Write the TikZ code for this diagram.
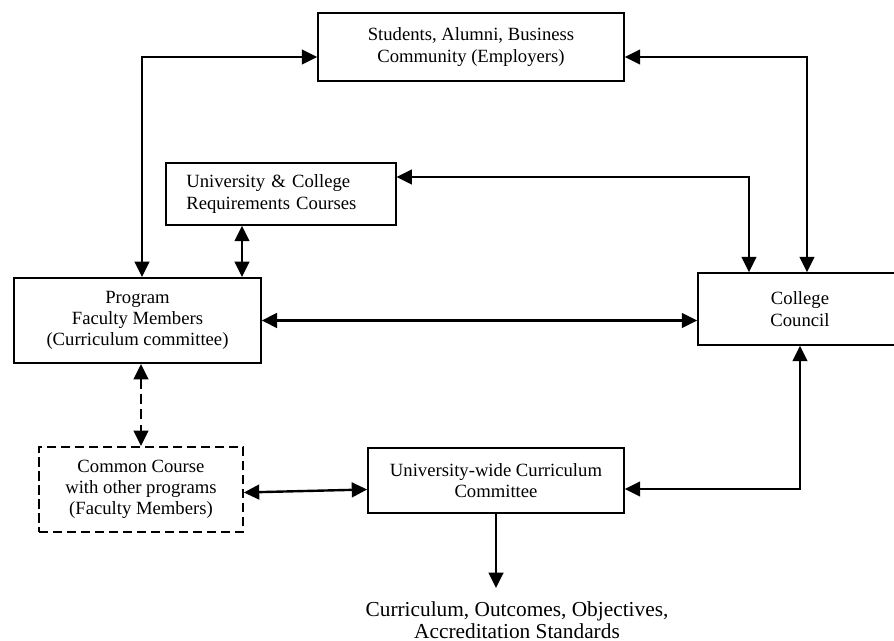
\documentclass[tikz,border=0pt]{standalone}
\usepackage{fontspec}
\setmainfont{Liberation Serif}
\usetikzlibrary{arrows.meta,calc}
\tikzset{
  box/.style={draw, line width=1.3pt, align=center, inner sep=2pt,
    font=\fontsize{14}{16}\selectfont},
  link/.style={line width=1.8pt, {Triangle[length=11.5pt,width=11pt]}-{Triangle[length=11.5pt,width=11pt]}},
}
\begin{document}
\begin{tikzpicture}[x=0.75pt, y=-0.75pt]
    \useasboundingbox (0,0) rectangle (894,641);
    % boxes
    \node[box, minimum width=229.5pt, minimum height=51pt] (stud) at (471,47)
        {Students, Alumni, Business\\Community (Employers)};
    \node[box, text width=142pt, inner xsep=15pt, align=left, minimum height=46.5pt] (univ) at (281,194)
        {University \& College\\Requirements Courses};
    \node[box, minimum width=185pt, minimum height=64pt] (prog) at (137.5,320.5)
        {Program\\Faculty Members\\(Curriculum committee)};
    \node[box, minimum width=153pt, minimum height=54pt] (council) at (800,309)
        {College\\Council};
    \node[box, dash pattern=on 7pt off 3.5pt, minimum width=153pt, minimum height=64pt] (comm) at (141,489.5)
        {Common Course\\with other programs\\(Faculty Members)};
    \node[box, minimum width=192pt, minimum height=48.5pt] (uwide) at (496,480.5)
        {University-wide Curriculum\\Committee};
    \node[anchor=north, inner sep=0pt, align=center, font=\fontsize{16}{16.5}\selectfont] (outc) at (517,601)
        {Curriculum, Outcomes, Objectives,\\Accreditation Standards};
    \coordinate (tip) at (496,588);
    % links
    \draw[link] (prog.north -| 142,0) |- ($(stud.west)+(0,10)$);
    \draw[link] ($(stud.east)+(0,10)$) -| (council.north -| 807,0);
    \draw[link] ($(univ.east)+(0,-17)$) -| (council.north -| 749,0);
    \draw[link] (univ.south -| 242,0) -- (prog.north -| 242,0);
    \draw[link] (prog.east) -- (prog.east -| council.west);
    \draw[link, dash pattern=on 7.5pt off 4pt] (prog.south -| comm.north) -- (comm.north);
    \draw[link] ($(comm.east)+(0,3)$) -- ($(uwide.west)+(0,9)$);
    \draw[link] ($(uwide.east)+(0,8.5)$) -| (council.south);
    \draw[line width=1.8pt, -{Triangle[length=11.5pt,width=11pt]}] (uwide.south) -- (tip);
\end{tikzpicture}
\end{document}
